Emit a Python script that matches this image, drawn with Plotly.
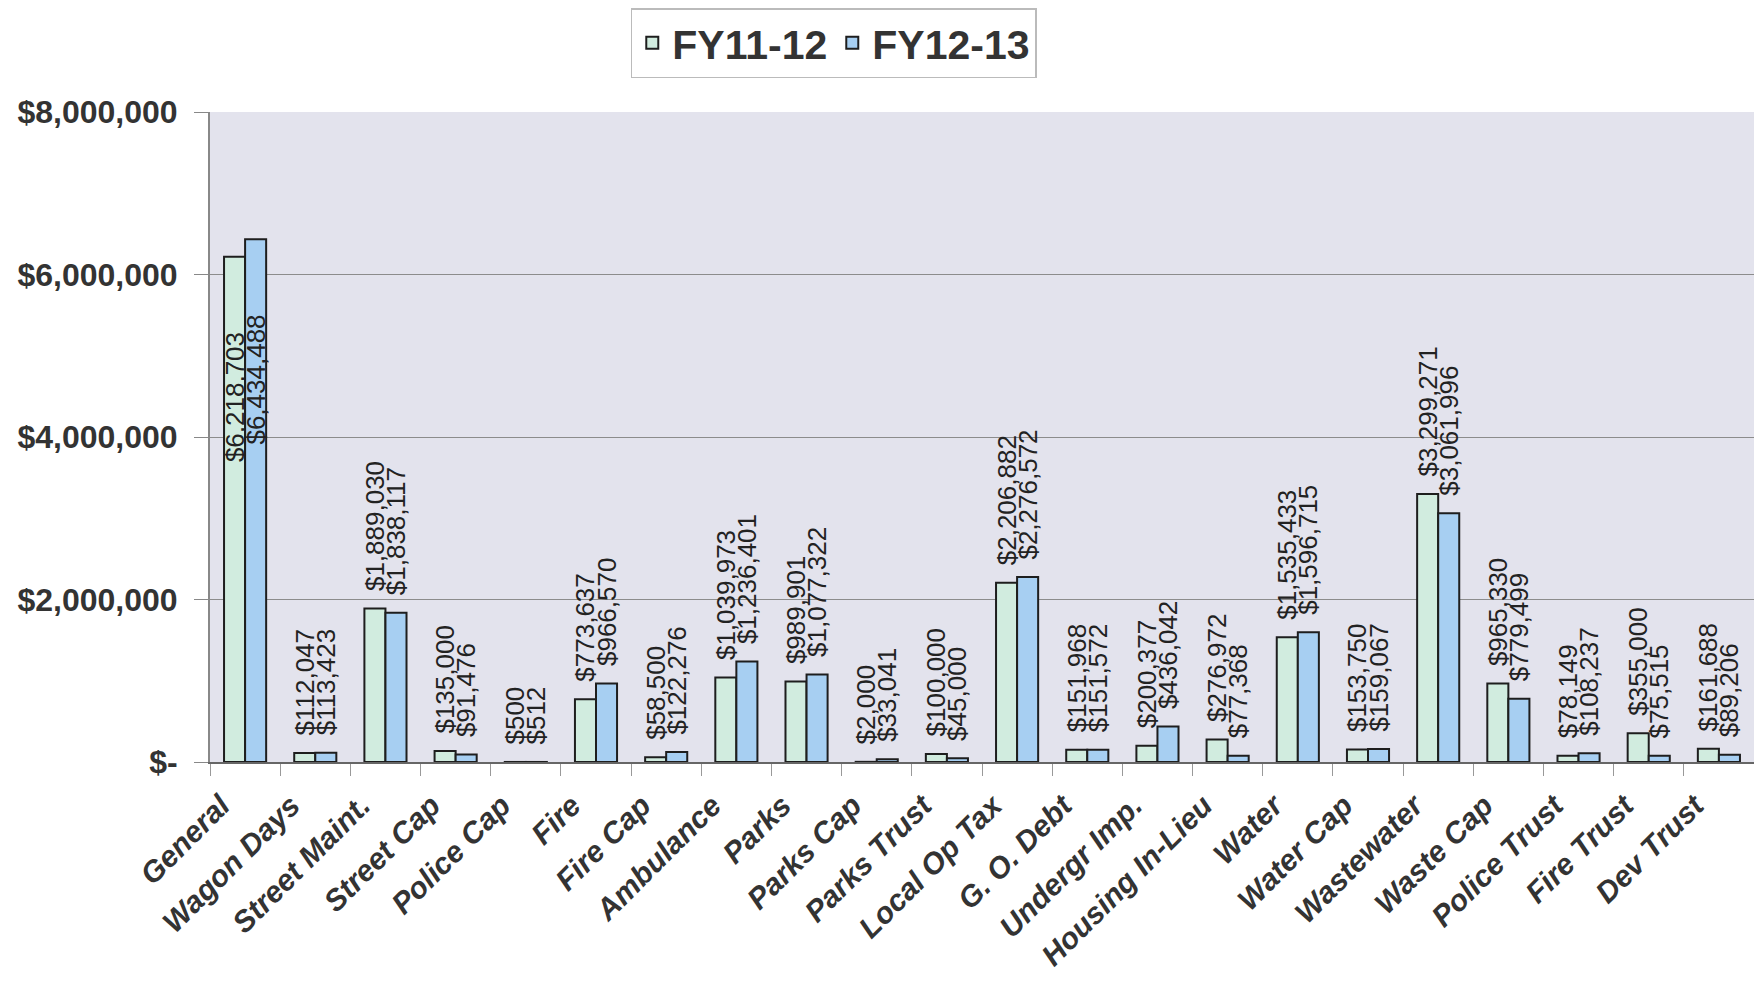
import plotly.graph_objects as go

categories = ["General", "Wagon Days", "Street Maint.", "Street Cap", "Police Cap", "Fire",
              "Fire Cap", "Ambulance", "Parks", "Parks Cap", "Parks Trust", "Local Op Tax",
              "G. O. Debt", "Undergr Imp.", "Housing In-Lieu", "Water", "Water Cap",
              "Wastewater", "Waste Cap", "Police Trust", "Fire Trust", "Dev Trust"]

fy11_12 = [6218703, 112047, 1889030, 135000, 500, 773637, 58500, 1039973, 989901, 2000,
           100000, 2206882, 151968, 200377, 276972, 1535433, 153750, 3299271, 965330,
           78149, 355000, 161688]

fy12_13 = [6434488, 113423, 1838117, 91476, 512, 966570, 122276, 1236401, 1077322, 33041,
           45000, 2276572, 151572, 436042, 77368, 1596715, 159067, 3061996, 779499,
           108237, 75515, 89206]

tick_vals = [0, 2000000, 4000000, 6000000, 8000000]
tick_text = ["$-", "$2,000,000", "$4,000,000", "$6,000,000", "$8,000,000"]

series = [("FY11-12", fy11_12, "#d1ecdf"), ("FY12-13", fy12_13, "#a7cff2")]

NB = "\u00a0"

fig = go.Figure()
for name, vals, color in series:
    labels = []
    positions = []
    for v in vals:
        s = "${:,}".format(v)
        if v > 5000000:
            labels.append(s + NB * 10)
            positions.append("inside")
        else:
            labels.append(NB * 2 + s)
            positions.append("outside")
    fig.add_trace(go.Bar(
        name=name, x=categories, y=vals,
        text=labels, textposition=positions, textangle=-90,
        insidetextanchor="end",
        constraintext="none",
        cliponaxis=False,
        textfont=dict(family="Liberation Sans, Arial, sans-serif", size=26, color="#222222"),
        marker=dict(color=color, line=dict(color="#1e1e1e", width=2)),
    ))

# page body has an 8px default margin, so the figure is sized to fit the window
fig.update_layout(
    width=1746, height=969,
    barmode="group", bargap=0.4, bargroupgap=0,
    paper_bgcolor="white", plot_bgcolor="#e3e3ed",
    margin=dict(l=202, r=0, t=104, b=215, autoexpand=False),
    font=dict(family="Liberation Sans, Arial, sans-serif", color="#333333"),
    showlegend=True,
    legend=dict(
        orientation="h", x=0.404, xanchor="center", y=1.16, yanchor="top",
        bordercolor="#bbbbbb", borderwidth=1.5, bgcolor="white",
        font=dict(family="Liberation Sans Narrow, Arial Narrow, Liberation Sans, sans-serif",
                  size=41, color="#333333", weight="bold"),
        itemwidth=30, traceorder="normal",
    ),
    xaxis=dict(
        type="category", tickangle=-45, tickson="boundaries",
        ticks="outside", ticklen=12, tickcolor="#999999",
        showline=True, linecolor="#666666", linewidth=2,
        showgrid=False, automargin=False,
        ticklabelstandoff=12, ticklabelshift=-24,
        tickfont=dict(family="Liberation Sans, Arial, sans-serif", size=30,
                      color="#333333", weight="bold", style="italic"),
        mirror=False,
    ),
    yaxis=dict(
        range=[0, 8000000], tickvals=tick_vals, ticktext=tick_text,
        ticks="outside", ticklen=14, tickcolor="#888888",
        showline=True, linecolor="#888888", linewidth=2, mirror=True,
        showgrid=True, gridcolor="#8c8c8c", gridwidth=1,
        zeroline=False, automargin=False,
        ticklabelstandoff=10,
        tickfont=dict(family="Liberation Sans, Arial, sans-serif", size=32,
                      color="#333333", weight="bold"),
    ),
)

fig.write_html("out.html")
